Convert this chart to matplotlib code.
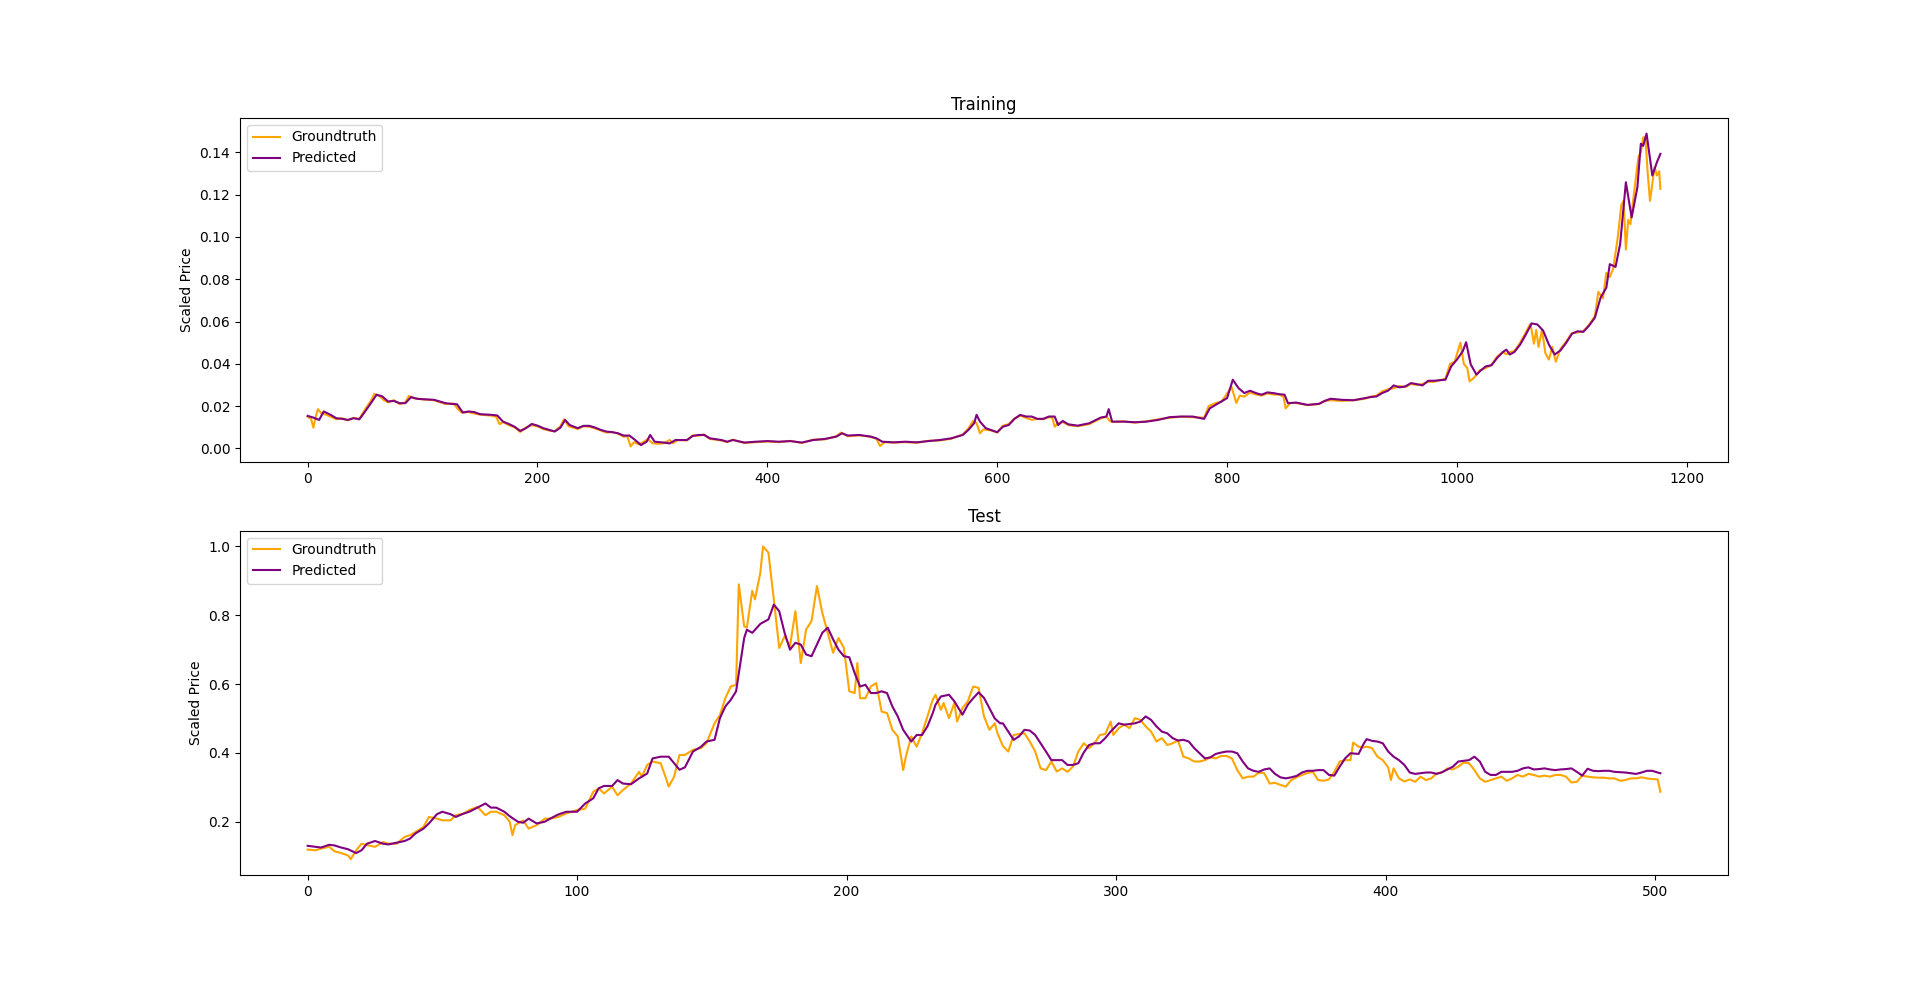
import numpy as np
import matplotlib
matplotlib.use('Agg')
import matplotlib.pyplot as plt

# values, as (day index, scaled price)
train_truth = [
    (0, 0.0150), (3, 0.0140), (5, 0.0098), (7, 0.0150), (9, 0.0186), (12, 0.0165), (16, 0.0160),
    (20, 0.0150), (25, 0.0138), (30, 0.0143), (35, 0.0133), (40, 0.0145), (45, 0.0140), (50, 0.0185),
    (55, 0.0225), (58, 0.0258), (62, 0.0250), (66, 0.0230), (70, 0.0218), (75, 0.0228), (80, 0.0210),
    (85, 0.0218), (88, 0.0248), (92, 0.0238), (100, 0.0232), (110, 0.0228), (120, 0.0210), (127, 0.0212),
    (131, 0.0185), (134, 0.0170), (140, 0.0172), (145, 0.0165), (150, 0.0160), (160, 0.0155), (164, 0.0150),
    (167, 0.0115), (170, 0.0125), (175, 0.0110), (180, 0.0100), (185, 0.0078), (190, 0.0100), (195, 0.0110),
    (200, 0.0105), (205, 0.0092), (210, 0.0085), (215, 0.0082), (220, 0.0105), (223, 0.0138), (227, 0.0105),
    (235, 0.0092), (240, 0.0105), (245, 0.0103), (250, 0.0095), (255, 0.0085), (260, 0.0075), (265, 0.0078),
    (270, 0.0070), (275, 0.0055), (278, 0.0060), (281, 0.0010), (284, 0.0030), (288, 0.0020), (292, 0.0030),
    (296, 0.0045), (300, 0.0025), (305, 0.0022), (310, 0.0025), (315, 0.0040), (318, 0.0025), (322, 0.0040),
    (330, 0.0038), (335, 0.0062), (340, 0.0060), (345, 0.0066), (350, 0.0045), (360, 0.0038), (365, 0.0030),
    (370, 0.0042), (380, 0.0026), (390, 0.0030), (400, 0.0033), (410, 0.0030), (420, 0.0036), (430, 0.0026),
    (440, 0.0042), (450, 0.0043), (460, 0.0058), (464, 0.0075), (470, 0.0058), (480, 0.0062), (490, 0.0055),
    (495, 0.0045), (498, 0.0012), (502, 0.0030), (510, 0.0028), (520, 0.0030), (530, 0.0027), (540, 0.0036),
    (550, 0.0038), (560, 0.0046), (570, 0.0066), (575, 0.0095), (579, 0.0130), (582, 0.0120), (585, 0.0072),
    (588, 0.0090), (595, 0.0085), (600, 0.0075), (605, 0.0108), (610, 0.0115), (615, 0.0142), (620, 0.0155),
    (625, 0.0145), (630, 0.0135), (635, 0.0140), (640, 0.0138), (645, 0.0148), (648, 0.0145), (650, 0.0103),
    (653, 0.0120), (657, 0.0125), (662, 0.0110), (670, 0.0105), (680, 0.0115), (690, 0.0142), (695, 0.0150),
    (698, 0.0130), (700, 0.0125), (710, 0.0128), (720, 0.0122), (730, 0.0128), (740, 0.0138), (750, 0.0145),
    (760, 0.0150), (770, 0.0148), (780, 0.0145), (784, 0.0200), (790, 0.0215), (795, 0.0220), (800, 0.0260),
    (804, 0.0290), (808, 0.0215), (811, 0.0250), (815, 0.0245), (820, 0.0265), (825, 0.0255), (830, 0.0250),
    (835, 0.0260), (840, 0.0255), (845, 0.0255), (849, 0.0245), (851, 0.0190), (855, 0.0215), (860, 0.0215),
    (870, 0.0205), (880, 0.0210), (885, 0.0225), (890, 0.0228), (900, 0.0225), (910, 0.0228), (920, 0.0235),
    (925, 0.0245), (930, 0.0250), (935, 0.0270), (940, 0.0280), (945, 0.0285), (950, 0.0295), (955, 0.0290),
    (960, 0.0305), (965, 0.0300), (970, 0.0305), (975, 0.0315), (980, 0.0315), (990, 0.0330), (994, 0.0400),
    (998, 0.0410), (1003, 0.0500), (1006, 0.0400), (1009, 0.0380), (1011, 0.0317), (1015, 0.0335),
    (1020, 0.0370), (1025, 0.0380), (1030, 0.0395), (1035, 0.0435), (1040, 0.0455), (1043, 0.0445),
    (1046, 0.0455), (1050, 0.0460), (1055, 0.0500), (1060, 0.0550), (1064, 0.0590), (1067, 0.0495),
    (1069, 0.0560), (1071, 0.0480), (1074, 0.0560), (1077, 0.0450), (1080, 0.0420), (1083, 0.0480),
    (1086, 0.0410), (1090, 0.0470), (1095, 0.0505), (1100, 0.0545), (1105, 0.0548), (1110, 0.0555),
    (1115, 0.0585), (1120, 0.0625), (1123, 0.0740), (1127, 0.0710), (1130, 0.0830), (1133, 0.0810),
    (1136, 0.0850), (1140, 0.1000), (1143, 0.1150), (1145, 0.1170), (1147, 0.0940), (1149, 0.1080),
    (1151, 0.1060), (1155, 0.1250), (1158, 0.1380), (1160, 0.1400), (1162, 0.1470), (1164, 0.1470),
    (1166, 0.1300), (1168, 0.1170), (1170, 0.1250), (1172, 0.1330), (1174, 0.1290), (1176, 0.1310),
    (1177, 0.1227),
]

train_pred = [
    (0, 0.0154), (5, 0.0146), (10, 0.0135), (14, 0.0175), (20, 0.0159), (25, 0.0143), (30, 0.0140),
    (35, 0.0135), (40, 0.0143), (45, 0.0138), (50, 0.0175), (55, 0.0214), (60, 0.0254), (65, 0.0246),
    (70, 0.0222), (75, 0.0225), (80, 0.0214), (85, 0.0214), (90, 0.0243), (95, 0.0235), (100, 0.0233),
    (110, 0.0230), (120, 0.0214), (125, 0.0211), (130, 0.0209), (135, 0.0170), (140, 0.0175), (145, 0.0172),
    (150, 0.0162), (160, 0.0159), (165, 0.0156), (170, 0.0127), (175, 0.0116), (180, 0.0103), (185, 0.0083),
    (190, 0.0096), (195, 0.0116), (200, 0.0108), (205, 0.0096), (210, 0.0088), (215, 0.0080), (220, 0.0099),
    (224, 0.0135), (228, 0.0111), (235, 0.0096), (240, 0.0107), (245, 0.0107), (250, 0.0099), (255, 0.0088),
    (260, 0.0080), (265, 0.0077), (270, 0.0072), (275, 0.0061), (280, 0.0061), (285, 0.0040), (290, 0.0016),
    (295, 0.0032), (298, 0.0064), (302, 0.0032), (310, 0.0028), (315, 0.0024), (320, 0.0040), (330, 0.0040),
    (335, 0.0059), (340, 0.0064), (345, 0.0064), (350, 0.0048), (360, 0.0040), (365, 0.0032), (370, 0.0040),
    (380, 0.0028), (390, 0.0032), (400, 0.0035), (410, 0.0032), (420, 0.0035), (430, 0.0028), (440, 0.0040),
    (450, 0.0045), (460, 0.0056), (465, 0.0072), (470, 0.0061), (480, 0.0064), (490, 0.0056), (495, 0.0048),
    (500, 0.0032), (510, 0.0029), (520, 0.0032), (530, 0.0029), (540, 0.0035), (550, 0.0040), (560, 0.0048),
    (570, 0.0064), (575, 0.0088), (580, 0.0120), (582, 0.0159), (585, 0.0127), (590, 0.0096), (600, 0.0077),
    (605, 0.0103), (610, 0.0111), (615, 0.0140), (620, 0.0159), (625, 0.0151), (630, 0.0151), (635, 0.0140),
    (640, 0.0140), (645, 0.0151), (650, 0.0151), (653, 0.0111), (657, 0.0130), (662, 0.0114), (670, 0.0108),
    (680, 0.0119), (690, 0.0146), (695, 0.0151), (697, 0.0186), (700, 0.0127), (710, 0.0127), (720, 0.0124),
    (730, 0.0127), (740, 0.0135), (750, 0.0148), (760, 0.0151), (770, 0.0151), (780, 0.0140), (785, 0.0190),
    (790, 0.0206), (795, 0.0222), (800, 0.0238), (805, 0.0325), (810, 0.0285), (815, 0.0262), (820, 0.0273),
    (825, 0.0262), (830, 0.0254), (835, 0.0265), (840, 0.0262), (845, 0.0257), (850, 0.0254), (853, 0.0214),
    (860, 0.0217), (870, 0.0206), (880, 0.0211), (885, 0.0225), (890, 0.0235), (900, 0.0230), (910, 0.0228),
    (920, 0.0238), (925, 0.0243), (930, 0.0246), (935, 0.0262), (940, 0.0273), (945, 0.0298), (950, 0.0289),
    (955, 0.0293), (960, 0.0309), (965, 0.0304), (970, 0.0298), (975, 0.0320), (980, 0.0320), (990, 0.0325),
    (995, 0.0388), (1000, 0.0420), (1005, 0.0459), (1008, 0.0502), (1012, 0.0397), (1017, 0.0349),
    (1020, 0.0365), (1025, 0.0388), (1030, 0.0393), (1035, 0.0428), (1040, 0.0456), (1043, 0.0467),
    (1046, 0.0444), (1050, 0.0456), (1055, 0.0491), (1060, 0.0539), (1065, 0.0591), (1070, 0.0586),
    (1075, 0.0557), (1080, 0.0491), (1085, 0.0444), (1090, 0.0463), (1095, 0.0499), (1100, 0.0542),
    (1105, 0.0554), (1110, 0.0551), (1115, 0.0581), (1120, 0.0618), (1125, 0.0713), (1130, 0.0760),
    (1133, 0.0871), (1138, 0.0858), (1142, 0.0966), (1147, 0.1258), (1152, 0.1092), (1157, 0.1234),
    (1160, 0.1440), (1162, 0.1430), (1165, 0.1488), (1170, 0.1290), (1174, 0.1353), (1177, 0.1392),
]

test_truth = [
    (0, 0.119), (3, 0.117), (5, 0.122), (8, 0.127), (10, 0.114), (12, 0.110), (15, 0.102), (16, 0.091),
    (18, 0.117), (20, 0.136), (22, 0.132), (25, 0.127), (28, 0.141), (30, 0.136), (33, 0.136), (36, 0.156),
    (38, 0.161), (40, 0.170), (43, 0.185), (45, 0.214), (48, 0.209), (50, 0.204), (53, 0.204), (55, 0.219),
    (58, 0.224), (60, 0.234), (63, 0.243), (66, 0.219), (68, 0.229), (70, 0.229), (73, 0.219), (75, 0.200),
    (76, 0.161), (77, 0.190), (80, 0.204), (82, 0.180), (85, 0.190), (88, 0.209), (90, 0.209), (93, 0.214),
    (96, 0.224), (100, 0.234), (103, 0.238), (106, 0.287), (108, 0.297), (110, 0.282), (113, 0.302),
    (115, 0.277), (117, 0.292), (120, 0.311), (123, 0.345), (124, 0.331), (126, 0.365), (128, 0.375),
    (131, 0.370), (133, 0.326), (134, 0.302), (136, 0.331), (138, 0.394), (140, 0.394), (143, 0.409),
    (146, 0.414), (148, 0.428), (151, 0.486), (153, 0.510), (155, 0.559), (157, 0.593), (159, 0.598),
    (160, 0.890), (162, 0.768), (163, 0.764), (165, 0.871), (166, 0.846), (168, 0.924), (169, 1.000),
    (171, 0.982), (173, 0.846), (175, 0.705), (177, 0.739), (179, 0.710), (181, 0.812), (183, 0.661),
    (185, 0.759), (187, 0.783), (189, 0.885), (191, 0.807), (193, 0.749), (195, 0.691), (197, 0.734),
    (199, 0.705), (201, 0.579), (203, 0.574), (204, 0.661), (205, 0.559), (207, 0.559), (209, 0.593),
    (211, 0.603), (213, 0.520), (215, 0.516), (217, 0.467), (219, 0.448), (221, 0.350), (222, 0.389),
    (224, 0.448), (226, 0.418), (228, 0.457), (230, 0.506), (232, 0.555), (233, 0.569), (235, 0.525),
    (236, 0.545), (238, 0.501), (240, 0.545), (241, 0.491), (243, 0.530), (245, 0.550), (247, 0.593),
    (249, 0.589), (251, 0.506), (253, 0.467), (255, 0.486), (256, 0.457), (258, 0.420), (260, 0.404),
    (262, 0.452), (264, 0.455), (266, 0.457), (268, 0.433), (270, 0.404), (272, 0.355), (274, 0.350),
    (276, 0.375), (278, 0.346), (280, 0.355), (282, 0.345), (284, 0.360), (286, 0.404), (288, 0.428),
    (290, 0.414), (292, 0.428), (294, 0.452), (296, 0.455), (298, 0.491), (299, 0.452), (301, 0.472),
    (303, 0.482), (305, 0.472), (307, 0.501), (309, 0.496), (311, 0.477), (313, 0.462), (315, 0.433),
    (317, 0.443), (319, 0.423), (321, 0.428), (323, 0.436), (325, 0.389), (327, 0.384), (329, 0.375),
    (331, 0.375), (333, 0.379), (335, 0.387), (337, 0.384), (339, 0.391), (341, 0.391), (343, 0.384),
    (345, 0.350), (347, 0.326), (349, 0.331), (351, 0.331), (353, 0.343), (355, 0.341), (357, 0.311),
    (359, 0.313), (361, 0.307), (363, 0.302), (365, 0.321), (367, 0.329), (369, 0.336), (371, 0.341),
    (373, 0.345), (375, 0.321), (377, 0.319), (379, 0.323), (381, 0.345), (383, 0.375), (385, 0.379),
    (387, 0.379), (388, 0.430), (390, 0.418), (392, 0.416), (393, 0.418), (395, 0.414), (397, 0.389),
    (399, 0.379), (401, 0.358), (402, 0.321), (403, 0.355), (405, 0.326), (407, 0.317), (409, 0.323),
    (411, 0.316), (413, 0.331), (415, 0.321), (417, 0.326), (419, 0.341), (421, 0.343), (423, 0.355),
    (425, 0.352), (427, 0.360), (429, 0.372), (431, 0.370), (433, 0.350), (435, 0.326), (437, 0.316),
    (439, 0.321), (441, 0.326), (443, 0.331), (445, 0.319), (447, 0.326), (449, 0.336), (451, 0.331),
    (453, 0.339), (455, 0.336), (457, 0.331), (459, 0.334), (461, 0.331), (463, 0.336), (465, 0.336),
    (467, 0.331), (469, 0.314), (471, 0.316), (473, 0.334), (475, 0.331), (477, 0.329), (479, 0.328),
    (481, 0.328), (483, 0.326), (485, 0.326), (487, 0.319), (489, 0.321), (491, 0.326), (493, 0.326),
    (495, 0.329), (497, 0.326), (499, 0.324), (501, 0.323), (502, 0.287),
]

test_pred = [
    (0, 0.130), (5, 0.125), (8, 0.133), (10, 0.131), (12, 0.126), (15, 0.120), (18, 0.109), (20, 0.117),
    (22, 0.136), (25, 0.144), (28, 0.136), (30, 0.134), (33, 0.139), (36, 0.144), (38, 0.151), (40, 0.166),
    (43, 0.180), (45, 0.195), (48, 0.222), (50, 0.229), (53, 0.222), (55, 0.214), (58, 0.224), (60, 0.229),
    (63, 0.241), (66, 0.253), (68, 0.241), (70, 0.241), (73, 0.229), (75, 0.216), (78, 0.200), (80, 0.197),
    (82, 0.209), (85, 0.195), (88, 0.200), (90, 0.209), (93, 0.221), (96, 0.229), (100, 0.229), (103, 0.253),
    (106, 0.268), (108, 0.297), (110, 0.304), (113, 0.304), (115, 0.321), (117, 0.311), (120, 0.309),
    (123, 0.326), (126, 0.340), (128, 0.384), (131, 0.389), (134, 0.389), (136, 0.370), (138, 0.351),
    (140, 0.358), (143, 0.404), (146, 0.418), (148, 0.433), (151, 0.438), (153, 0.501), (155, 0.535),
    (157, 0.554), (159, 0.579), (162, 0.734), (163, 0.758), (165, 0.749), (168, 0.775), (171, 0.788),
    (173, 0.831), (175, 0.812), (177, 0.749), (179, 0.700), (181, 0.720), (183, 0.715), (185, 0.686),
    (187, 0.681), (189, 0.715), (191, 0.749), (193, 0.764), (195, 0.730), (197, 0.700), (199, 0.681),
    (201, 0.678), (203, 0.632), (205, 0.593), (207, 0.598), (209, 0.574), (211, 0.574), (213, 0.579),
    (215, 0.574), (217, 0.535), (219, 0.506), (221, 0.467), (224, 0.433), (226, 0.452), (228, 0.452),
    (230, 0.477), (232, 0.516), (233, 0.540), (235, 0.564), (238, 0.569), (240, 0.550), (243, 0.511),
    (245, 0.540), (247, 0.559), (249, 0.576), (251, 0.560), (253, 0.530), (255, 0.500), (257, 0.486),
    (258, 0.486), (260, 0.462), (262, 0.438), (264, 0.448), (266, 0.467), (268, 0.465), (270, 0.452),
    (272, 0.428), (274, 0.404), (276, 0.379), (278, 0.379), (280, 0.379), (282, 0.365), (284, 0.365),
    (286, 0.370), (288, 0.401), (290, 0.423), (292, 0.428), (294, 0.428), (296, 0.443), (298, 0.462),
    (301, 0.486), (303, 0.482), (305, 0.484), (307, 0.486), (309, 0.491), (311, 0.506), (313, 0.496),
    (315, 0.477), (317, 0.462), (319, 0.457), (321, 0.443), (323, 0.436), (325, 0.438), (327, 0.433),
    (329, 0.414), (331, 0.399), (333, 0.384), (335, 0.387), (337, 0.397), (339, 0.401), (341, 0.404),
    (343, 0.404), (345, 0.399), (347, 0.375), (349, 0.355), (351, 0.348), (353, 0.345), (355, 0.352),
    (357, 0.355), (359, 0.339), (361, 0.329), (363, 0.326), (365, 0.329), (367, 0.333), (369, 0.343),
    (371, 0.348), (373, 0.348), (375, 0.350), (377, 0.350), (379, 0.336), (381, 0.334), (383, 0.360),
    (385, 0.384), (387, 0.399), (390, 0.397), (392, 0.428), (393, 0.440), (395, 0.435), (397, 0.433),
    (399, 0.428), (401, 0.404), (403, 0.389), (405, 0.379), (407, 0.365), (409, 0.343), (411, 0.339),
    (413, 0.341), (415, 0.343), (417, 0.343), (419, 0.339), (421, 0.344), (423, 0.352), (425, 0.360),
    (427, 0.375), (429, 0.377), (431, 0.379), (433, 0.389), (435, 0.375), (437, 0.345), (439, 0.336),
    (441, 0.336), (443, 0.345), (445, 0.345), (447, 0.345), (449, 0.348), (451, 0.355), (453, 0.358),
    (455, 0.352), (457, 0.353), (459, 0.355), (461, 0.352), (463, 0.350), (465, 0.352), (467, 0.353),
    (469, 0.355), (471, 0.345), (473, 0.334), (475, 0.354), (477, 0.348), (479, 0.347), (481, 0.348),
    (483, 0.348), (485, 0.345), (487, 0.344), (489, 0.343), (491, 0.341), (493, 0.339), (495, 0.343),
    (497, 0.348), (499, 0.348), (501, 0.343), (502, 0.341),
]


def plot_panel(ax, truth, pred, title):
    t = np.array(truth)
    p = np.array(pred)
    ax.plot(t[:, 0], t[:, 1], color='orange', label='Groundtruth')
    ax.plot(p[:, 0], p[:, 1], color='purple', label='Predicted')
    ax.set_title(title)
    ax.set_ylabel('Scaled Price')
    ax.legend(loc='upper left')


fig, (ax1, ax2) = plt.subplots(2, 1, figsize=(19.2, 9.83), dpi=100)
plot_panel(ax1, train_truth, train_pred, 'Training')
plot_panel(ax2, test_truth, test_pred, 'Test')
plt.savefig('out.png', dpi=100)
plt.close()
